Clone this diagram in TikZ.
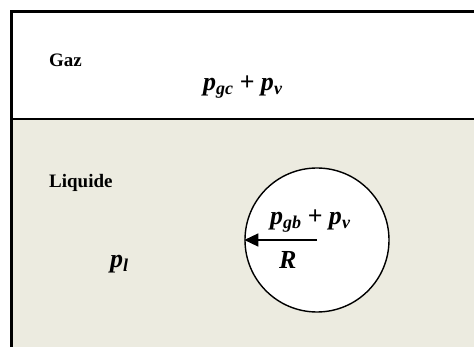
\documentclass[tikz,border=0pt]{standalone}
\usepackage{fontspec}
\setmainfont{Liberation Serif}
\usetikzlibrary{arrows.meta}
\definecolor{liquidfill}{HTML}{ECEBE0}
\newcommand{\lowsub}[1]{\raisebox{-0.15em}{\fontsize{18}{18}\selectfont #1}}

\begin{document}
\begin{tikzpicture}[
  x=1pt,y=-1pt,
  >={Triangle[length=14pt,width=13pt]},
  phase/.style={font=\fontsize{19}{22}\selectfont\bfseries,anchor=base west,inner sep=0pt},
  press/.style={font=\fontsize{26}{30}\selectfont\bfseries\itshape,anchor=base west,inner sep=0pt},
  bubble/.style={circle,draw,fill=white,line width=1.4pt,minimum size=144pt,inner sep=0pt},
  radius/.style={->,line width=1.4pt},
]
\useasboundingbox (0,0) rectangle (474,347);

% vessel: gas on top, liquid below
\fill[liquidfill] (11,119) rectangle (474,347);
\draw[line width=3pt] (11,347) -- (11,11.5) -- (474,11.5);
\draw[line width=2pt] (11,119) -- (474,119);

\node[phase] (gaz) at (49,67) {Gaz};
\node[press] (pgc) at (203,91) {p\lowsub{gc} + p\lowsub{v}};
\node[phase] (liquide) at (49,188) {Liquide};
\node[press] (pl) at (110,268) {p\lowsub{l}};

% bubble of radius R
\node[bubble] (bulle) at (317,240) {};
\node[press] (pgb) at (270,225) {p\lowsub{gb} + p\lowsub{v}};
\node[press] (rayon) at (279,269) {R};
\draw[radius] (bulle.center) -- (bulle.west);
\end{tikzpicture}
\end{document}
